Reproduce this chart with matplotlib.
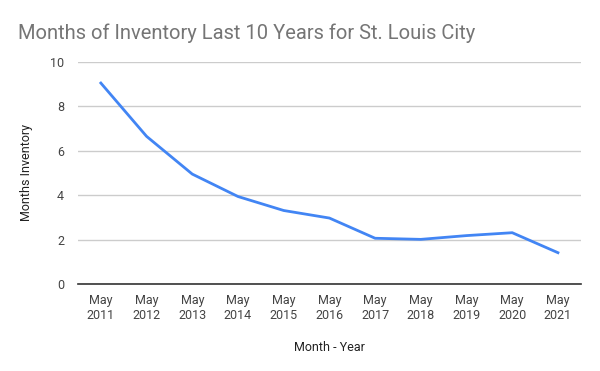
import matplotlib
matplotlib.use('Agg')
import matplotlib.pyplot as plt

years = ['2011', '2012', '2013', '2014', '2015', '2016', '2017', '2018', '2019', '2020', '2021']
inventory = [9.05, 6.65, 4.95, 3.94, 3.31, 2.97, 2.06, 2.01, 2.18, 2.31, 1.41]
labels = ['May\n' + y for y in years]

plt.rcParams['font.family'] = ['Roboto', 'DejaVu Sans']

fig = plt.figure(figsize=(6, 3.71), dpi=100)
ax = fig.add_axes([0.13, 0.2345, 0.838, 0.5985])

x = list(range(len(years)))
ax.plot(x, inventory, color='#4285F4', linewidth=2)

ax.set_xlim(-0.5, len(years) - 0.5)
ax.set_ylim(0, 10)
ax.set_yticks([0, 2, 4, 6, 8, 10])
ax.set_xticks(x)
ax.set_xticklabels(labels)
ax.tick_params(axis='both', length=0, labelsize=9, colors='#444444')
ax.tick_params(axis='x', pad=7)
ax.tick_params(axis='y', pad=10)
ax.grid(axis='y', color='#cccccc', linewidth=1)
ax.set_axisbelow(True)
for s in ['top', 'right', 'left']:
    ax.spines[s].set_visible(False)
ax.spines['bottom'].set_color('#333333')
ax.spines['bottom'].set_linewidth(1.2)
ax.spines['bottom'].set_zorder(3)

ax.set_ylabel('Months Inventory', fontsize=9, color='#222222', labelpad=12)
ax.set_xlabel('Month - Year', fontsize=9, color='#222222', labelpad=14)

fig.text(18 / 600, 1 - 33 / 371, 'Months of Inventory Last 10 Years for St. Louis City',
         fontsize=14.5, color='#757575', va='center', ha='left')

plt.savefig('out.png', dpi=100)
